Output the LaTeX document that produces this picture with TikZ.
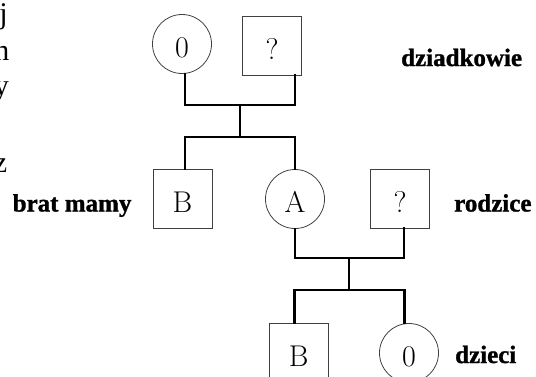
\documentclass[tikz,border=0pt]{standalone}
\usepackage{fontspec}
\newfontfamily\timesf{Liberation Serif}
\newfontfamily\timesheavy{Liberation Serif Bold}[FakeBold=1.2]
\begin{document}
\begin{tikzpicture}[x=1pt,y=-1pt,
  shapeline/.style={draw=black!75,line width=0.8pt,inner sep=0pt,text height=27pt,text depth=0pt,font=\fontsize{30}{35}\selectfont},
  fem/.style={shapeline,circle,minimum size=59pt},
  male/.style={shapeline,rectangle,minimum size=59pt},
  conn/.style={line width=2.6pt,line cap=rect},
  lab/.style={anchor=base west,inner sep=0pt,font=\timesheavy\fontsize{25}{30}\selectfont},
  cut/.style={anchor=base east,inner sep=0pt,font=\timesf\fontsize{30}{36}\selectfont}]
\useasboundingbox (0,0) rectangle (536,376);
% cut-off text at the left edge
\node[cut] (t1) at (8,23) {j};
\node[cut] (t2) at (9.5,60) {n};
\node[cut] (t3) at (9,95) {y};
\node[cut] (t4) at (7.5,172) {z};
% junctions
\coordinate (m1) at (240,105);
\coordinate (s1) at (240,137);
\coordinate (m2) at (349,258);
\coordinate (s2) at (349,290);
% grandparents
\node[fem] (gm) at (182,44) {0};
\node[male] (gf) at (272,45.5) {?};
% parents generation
\node[male] (uB) at (182.5,198.5) {B};
\node[fem] (mA) at (295,199) {A};
\node[male] (fq) at (400,198.5) {?};
% children
\node[male] (cB) at (298.7,352.5) {B};
\node[fem] (c0) at (409,353) {0};
% connectors
\draw[conn] ([xshift=3pt]gm.south) |- (m1) -| ([xshift=23pt]gf.south);
\draw[conn] (m1) -- (s1);
\draw[conn] ([xshift=2.5pt]uB.north) |- (s1) -| (mA.north);
\draw[conn] (mA.south) |- (m2) -| ([xshift=4pt]fq.south);
\draw[conn] (m2) -- (s2);
\draw[conn] ([xshift=-4.4pt]cB.north) |- (s2) -| ([xshift=-4.7pt]c0.north);
% labels
\node[lab] (l1) at (401,66) {dziadkowie};
\node[lab] (l2) at (12.5,211.5) {brat mamy};
\node[lab] (l3) at (454,211.5) {rodzice};
\node[lab] (l4) at (455,363) {dzieci};
\end{tikzpicture}
\end{document}
